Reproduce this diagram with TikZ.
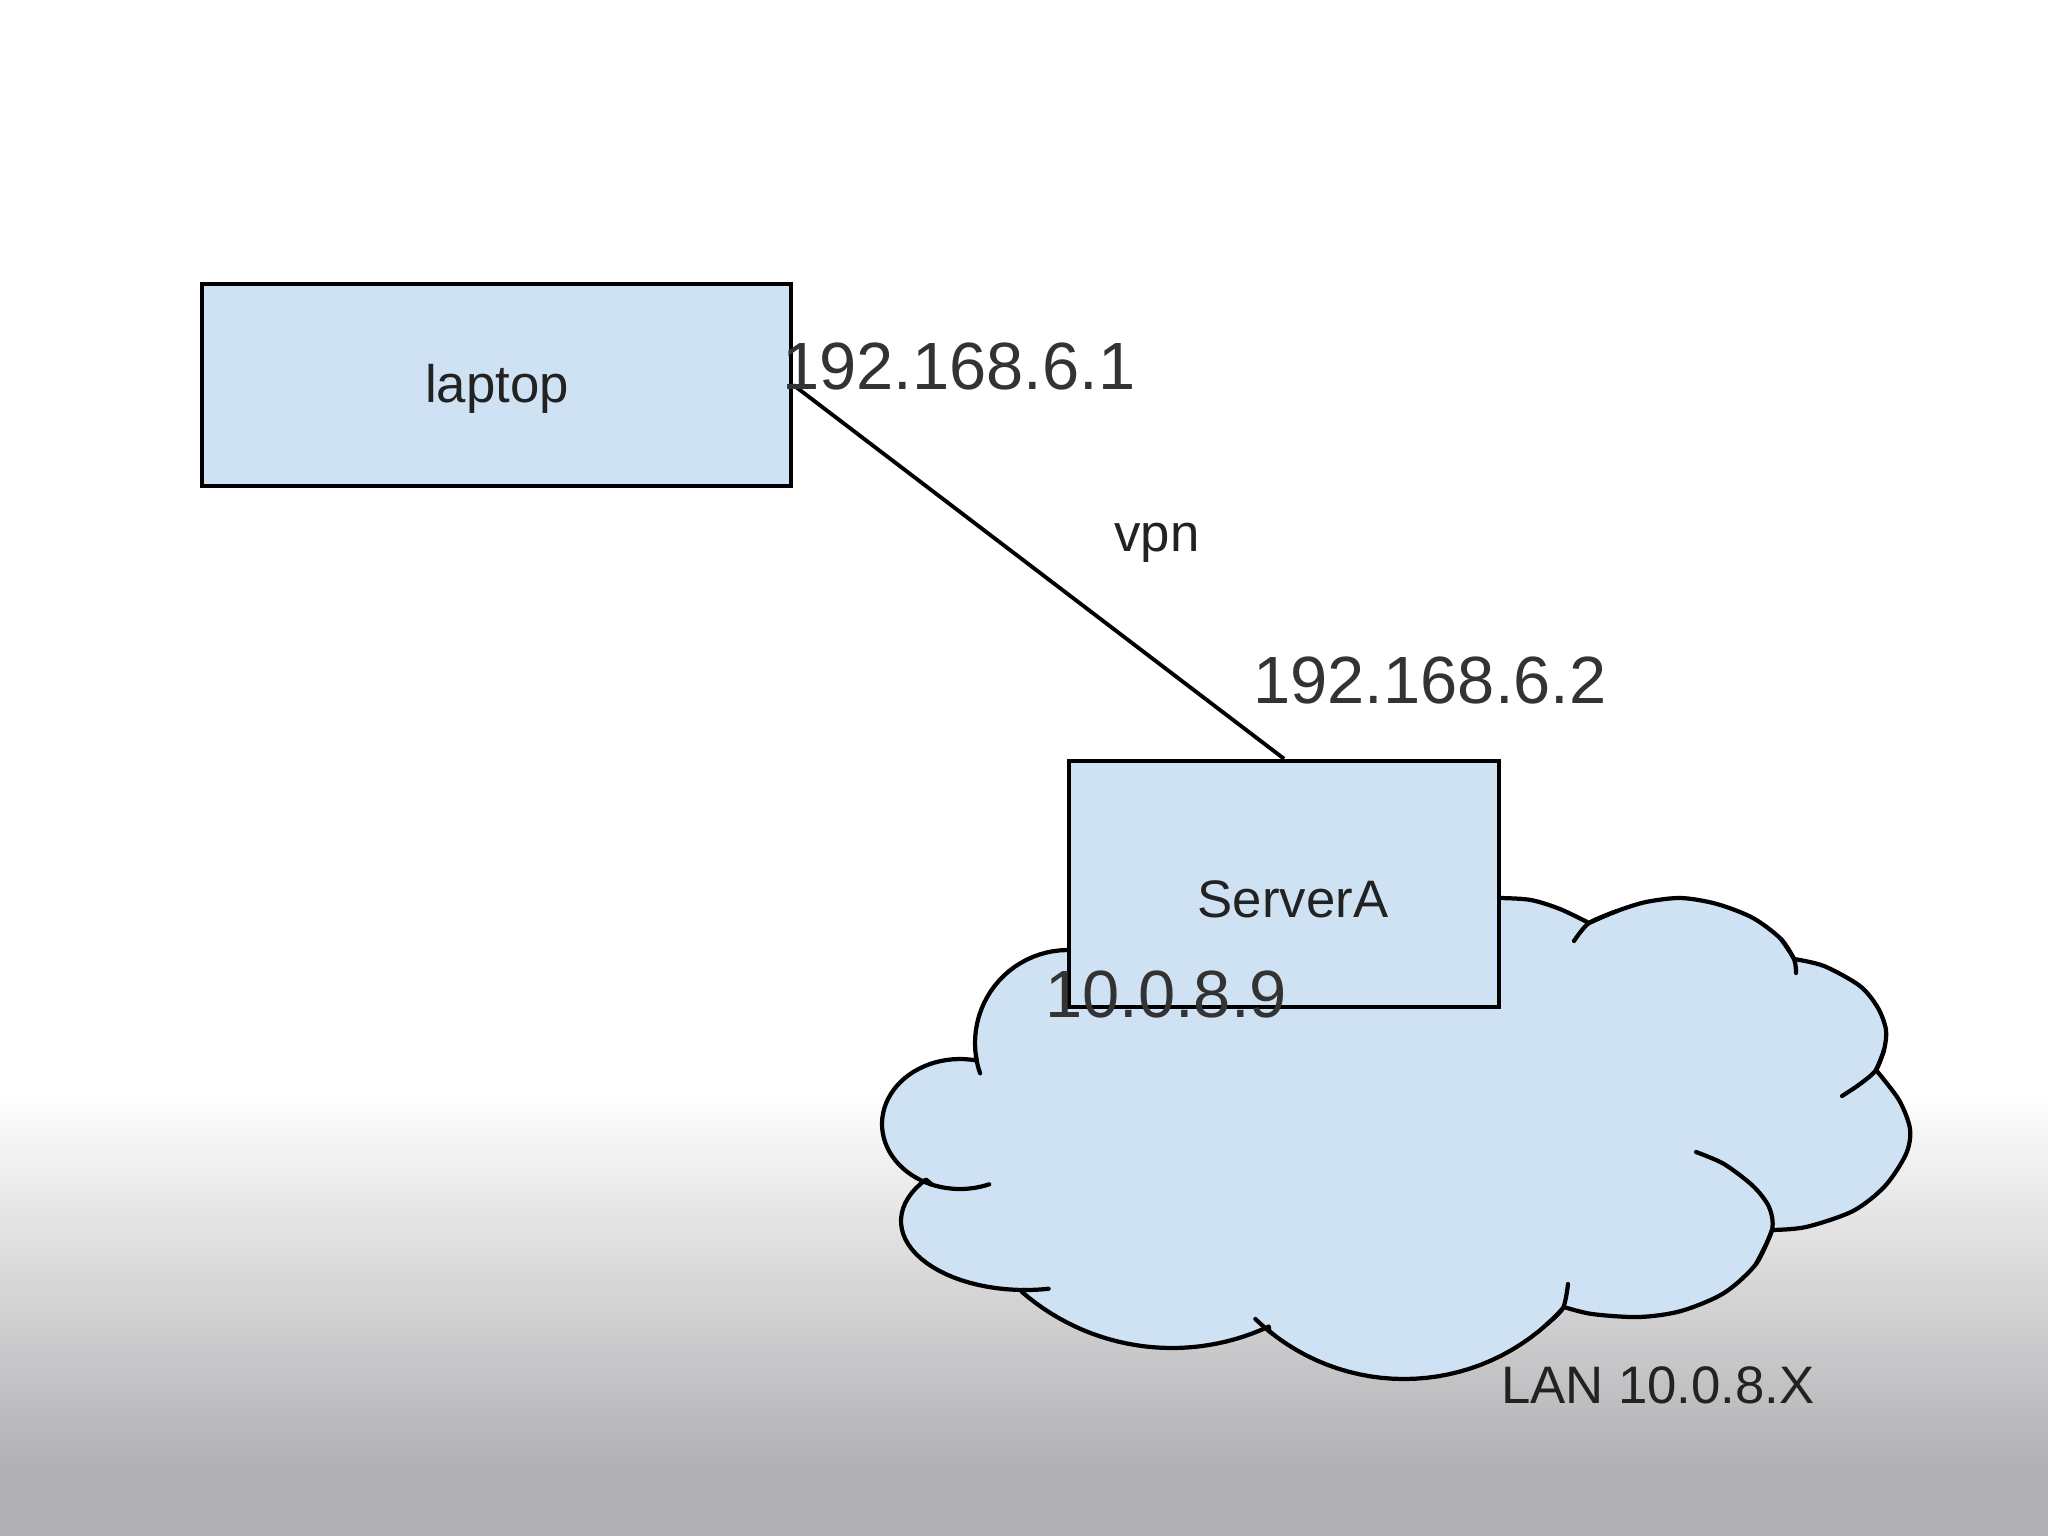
\documentclass[tikz,border=0pt]{standalone}
\usepackage{fontspec}
\setmainfont{Liberation Sans}
\definecolor{boxblue}{HTML}{CFE2F3}
\definecolor{bggray}{HTML}{B0B0B3}
\definecolor{txtdark}{HTML}{222222}
\definecolor{txtip}{HTML}{333333}
\tikzset{
  devbox/.style={draw=black, fill=boxblue, line width=1.25pt, inner sep=0pt, rectangle},
  smalllbl/.style={font=\fontsize{15pt}{18pt}\selectfont, text=txtdark, inner sep=0pt, anchor=base},
  iplbl/.style={font=\fontsize{19pt}{23pt}\selectfont, text=txtip, inner sep=0pt, anchor=base},
  cloudline/.style={draw=black, fill=boxblue, line width=1.2pt, line join=round},
  hookline/.style={draw=black, line width=1.2pt, line cap=round},
  conn/.style={draw=black, line width=1.1pt}
}
\begin{document}
\begin{tikzpicture}[x=0.01cm, y=-0.01cm]
\useasboundingbox (0,0) rectangle (2048,1536);
% background
\fill[white] (0,0) rectangle (2048,1092);
\shade[top color=white, bottom color=bggray] (0,1090) rectangle (2048,1472);
\fill[bggray] (0,1470) rectangle (2048,1536);

% cloud
\path[cloudline] (1090,945)
  -- plot[domain=295:171, samples=30, variable=\t] ({1068+93*cos(\t)}, {1043+93*sin(\t)})
  -- plot[domain=282:111, samples=40, variable=\t] ({960+78*cos(\t)}, {1124+65*sin(\t)})
  -- plot[domain=217:90, samples=30, variable=\t] ({1025+124*cos(\t)}, {1221+69*sin(\t)})
  -- plot[domain=131:65, samples=30, variable=\t] ({1172+229*cos(\t)}, {1119+229*sin(\t)})
  -- plot[domain=129:42, samples=30, variable=\t] ({1404+214*cos(\t)}, {1165+214*sin(\t)})
  -- plot[smooth] coordinates {(1564,1307) (1592,1314) (1639,1317) (1681,1311) (1724,1293) (1756,1264) (1772,1230)}
  -- plot[smooth] coordinates {(1772,1230) (1806,1227) (1853,1211) (1885,1186) (1906,1154) (1910,1129) (1899,1100) (1876,1070)}
  -- plot[smooth] coordinates {(1876,1070) (1884,1050) (1886,1030) (1878,1008) (1860,986) (1824,966) (1794,959)}
  -- plot[smooth] coordinates {(1794,959) (1781,939) (1753,918) (1717,904) (1681,898) (1646,902) (1617,911) (1589,923)}
  -- plot[smooth] coordinates {(1589,923) (1560,909) (1531,900) (1501,898) (1480,898)}
  -- cycle;
% inner strokes of the cloud
\draw[hookline] plot[domain=172:161, samples=8, variable=\t] ({1068+93*cos(\t)}, {1043+93*sin(\t)});
\draw[hookline] plot[domain=112:68, samples=15, variable=\t] ({960+78*cos(\t)}, {1124+65*sin(\t)});
\draw[hookline] plot[domain=91:79, samples=8, variable=\t] ({1025+124*cos(\t)}, {1221+69*sin(\t)});
\draw[hookline] plot[domain=134:128, samples=8, variable=\t] ({1404+214*cos(\t)}, {1165+214*sin(\t)});
\draw[hookline] plot[smooth] coordinates {(1547,1324) (1563,1308) (1568,1284)};
\draw[hookline] plot[smooth] coordinates {(1756,1264) (1772,1230) (1769,1207) (1753,1186) (1724,1164) (1696,1152)};
\draw[hookline] plot[smooth] coordinates {(1884,1050) (1876,1070) (1860,1084) (1842,1096)};
\draw[hookline] plot[smooth] coordinates {(1781,939) (1794,959) (1796,973)};
\draw[hookline] plot[smooth] coordinates {(1617,911) (1589,923) (1574,941)};

% boxes
\node[devbox, minimum width=5.89cm, minimum height=2.02cm] (laptop) at (496.5,385) {};
\node[devbox, minimum width=4.30cm, minimum height=2.46cm] (server) at (1284,884) {};

% connector
\draw[conn] (laptop.east) -- (server.north);

% labels
\node[smalllbl] (laptoptxt) at (497,402) {laptop};
\node[smalllbl] (servertxt) at (1293,917) {ServerA};
\node[smalllbl] (vpntxt) at (1157,551) {vpn};
\node[smalllbl] (lantxt) at (1658,1403) {LAN 10.0.8.X};
\node[iplbl] (ip1) at (959,389) {192.168.6.1};
\node[iplbl] (ip2) at (1430,703) {192.168.6.2};
\node[iplbl] (ip3) at (1166,1017) {10.0.8.9};
\end{tikzpicture}
\end{document}
